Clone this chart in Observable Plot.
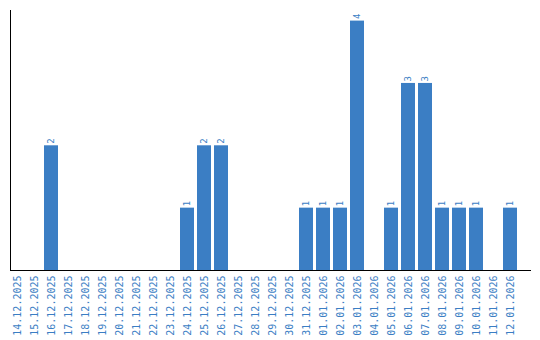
<!DOCTYPE html>
<html>
<head>
<meta charset="utf-8">
<script src="https://cdn.jsdelivr.net/npm/d3@7"></script>
<script src="https://cdn.jsdelivr.net/npm/@observablehq/plot@0.6"></script>
<style>
  html, body { margin: 0; padding: 0; background: #fff; }
</style>
</head>
<body>
<div id="chart"></div>
<script>
const dates = [
  "14.12.2025","15.12.2025","16.12.2025","17.12.2025","18.12.2025","19.12.2025",
  "20.12.2025","21.12.2025","22.12.2025","23.12.2025","24.12.2025","25.12.2025",
  "26.12.2025","27.12.2025","28.12.2025","29.12.2025","30.12.2025","31.12.2025",
  "01.01.2026","02.01.2026","03.01.2026","04.01.2026","05.01.2026","06.01.2026",
  "07.01.2026","08.01.2026","09.01.2026","10.01.2026","11.01.2026","12.01.2026"
];
const counts = [0,0,2,0,0,0,0,0,0,0,1,2,2,0,0,0,0,1,1,1,4,0,1,3,3,1,1,1,0,1];

const data = dates.map((d, i) => ({date: d, count: counts[i]}));
const nonzero = data.filter(d => d.count > 0);
const blue = "#3b7ec4";
const font = "DejaVu Sans Mono";

const chart = Plot.plot({
  width: 540,
  height: 340,
  marginLeft: 10,
  marginRight: 9,
  marginTop: 10,
  marginBottom: 70,
  style: {fontFamily: font, background: "#fff"},
  x: {type: "band", domain: dates, range: [10, 517], paddingInner: 0.18, paddingOuter: 0},
  y: {domain: [0, 4.17], axis: null},
  marks: [
    Plot.barY(nonzero, {x: "date", y: "count", fill: blue}),
    Plot.text(nonzero, {x: "date", y: "count", text: d => String(d.count), rotate: -90,
      textAnchor: "start", dy: -2, fill: blue, fontSize: 9, fontFamily: font}),
    Plot.axisX({tickRotate: -90, tickSize: 0, tickPadding: 5, fill: blue, fontSize: 10, fontFamily: font, label: null}),
    Plot.ruleY([0], {stroke: "#000"}),
    Plot.frame({anchor: "left", stroke: "#000"})
  ]
});
document.getElementById("chart").appendChild(chart);
</script>
</body>
</html>
